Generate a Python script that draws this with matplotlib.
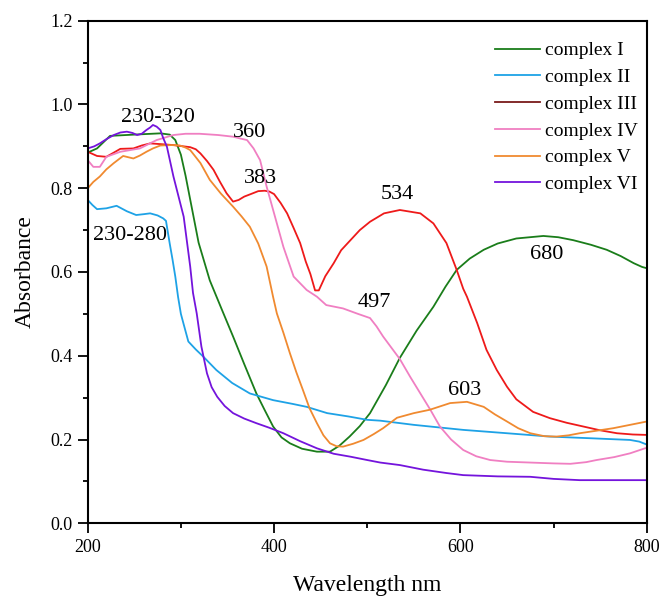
import matplotlib
matplotlib.use("Agg")
import matplotlib.pyplot as plt
from matplotlib.ticker import MultipleLocator

plt.rcParams['font.family'] = ['Liberation Serif', 'DejaVu Serif']

# ---- data ----
wl_1 = [200, 210, 224, 250, 278, 288, 294, 300, 305, 312, 319, 331, 344, 356, 368, 381, 390, 399, 408, 417,
        430, 446, 460, 470, 481, 492, 503, 520, 535, 553, 571, 584, 596, 610, 625, 640, 660, 689, 705, 721,
        740, 757, 772, 786, 795, 800]
abs_1 = [0.885, 0.895, 0.925, 0.928, 0.931, 0.928, 0.915, 0.88, 0.83, 0.75, 0.67, 0.58, 0.51, 0.446, 0.38, 0.31,
         0.27, 0.231, 0.205, 0.191, 0.178, 0.171, 0.171, 0.185, 0.207, 0.232, 0.263, 0.33, 0.395, 0.46, 0.517,
         0.565, 0.605, 0.632, 0.653, 0.668, 0.68, 0.686, 0.683, 0.676, 0.665, 0.653, 0.638, 0.621, 0.612, 0.609]

wl_2 = [200, 205, 210, 220, 231, 242, 252, 260, 267, 275, 281, 284, 288, 291, 294, 297, 300, 303, 308, 316,
        324, 338, 355, 374, 399, 420, 435, 457, 480, 500, 514, 550, 603, 650, 696, 740, 782, 792, 800]
abs_2 = [0.772, 0.76, 0.75, 0.752, 0.758, 0.745, 0.736, 0.738, 0.74, 0.735, 0.728, 0.722, 0.668, 0.63, 0.589,
         0.54, 0.50, 0.475, 0.434, 0.415, 0.398, 0.366, 0.335, 0.31, 0.294, 0.285, 0.278, 0.263, 0.255, 0.247,
         0.245, 0.235, 0.223, 0.215, 0.207, 0.203, 0.199, 0.195, 0.188]

wl_3 = [200, 210, 220, 228, 235, 249, 258, 267, 280, 292, 310, 316, 321, 328, 335, 342, 349, 356, 362, 368,
        375, 383, 390, 395, 400, 407, 414, 421, 428, 434, 439, 444, 448, 455, 464, 472, 482, 492, 503, 518,
        535, 557, 571, 585, 596, 603, 607, 618, 628, 639, 650, 660, 678, 696, 714, 732, 750, 768, 785, 800]
abs_3 = [0.887, 0.877, 0.875, 0.885, 0.894, 0.895, 0.902, 0.907, 0.905, 0.903, 0.898, 0.893, 0.883, 0.865,
         0.844, 0.815, 0.788, 0.768, 0.772, 0.78, 0.786, 0.793, 0.794, 0.792, 0.786, 0.765, 0.740, 0.705, 0.669,
         0.625, 0.595, 0.556, 0.556, 0.59, 0.621, 0.652, 0.676, 0.70, 0.72, 0.74, 0.748, 0.74, 0.716, 0.669,
         0.605, 0.56, 0.541, 0.478, 0.414, 0.366, 0.326, 0.296, 0.266, 0.251, 0.24, 0.231, 0.222, 0.215, 0.212,
         0.211]

wl_4 = [200, 206, 213, 220, 235, 256, 265, 274, 292, 305, 320, 340, 356, 365, 371, 378, 385, 392, 399, 410,
        421, 435, 446, 456, 474, 490, 503, 510, 517, 535, 546, 557, 568, 578, 590, 603, 617, 632, 650, 675,
        700, 718, 735, 746, 765, 782, 798, 800]
abs_4 = [0.867, 0.851, 0.851, 0.875, 0.887, 0.895, 0.905, 0.915, 0.927, 0.93, 0.93, 0.927, 0.923, 0.918, 0.915,
         0.895, 0.867, 0.804, 0.748, 0.66, 0.589, 0.557, 0.541, 0.521, 0.513, 0.50, 0.49, 0.47, 0.446, 0.392,
         0.35, 0.31, 0.27, 0.231, 0.20, 0.175, 0.16, 0.151, 0.147, 0.145, 0.143, 0.142, 0.146, 0.151, 0.158,
         0.167, 0.179, 0.18]

wl_5 = [200, 206, 213, 220, 228, 238, 249, 256, 263, 270, 278, 290, 299, 305, 310, 315, 321, 331, 343, 356,
        365, 374, 383, 392, 399, 403, 410, 417, 424, 431, 438, 446, 453, 460, 467, 474, 485, 496, 507, 517,
        532, 550, 567, 589, 607, 625, 637, 650, 662, 675, 690, 703, 716, 728, 746, 764, 782, 800]
abs_5 = [0.80, 0.815, 0.828, 0.845, 0.86, 0.877, 0.871, 0.878, 0.887, 0.895, 0.902, 0.903, 0.902, 0.897, 0.891,
         0.877, 0.86, 0.82, 0.787, 0.756, 0.733, 0.708, 0.668, 0.613, 0.54, 0.501, 0.455, 0.406, 0.36, 0.318,
         0.275, 0.239, 0.21, 0.191, 0.184, 0.183, 0.19, 0.199, 0.213, 0.227, 0.252, 0.263, 0.271, 0.287, 0.29,
         0.278, 0.26, 0.243, 0.227, 0.215, 0.208, 0.207, 0.21, 0.215, 0.221, 0.227, 0.235, 0.243]

wl_6 = [200, 207, 213, 220, 228, 235, 242, 248, 253, 258, 263, 267, 270, 274, 278, 281, 285, 292, 303, 310,
        313, 317, 322, 328, 333, 339, 347, 356, 368, 381, 395, 410, 428, 446, 464, 482, 500, 514, 535, 560,
        585, 603, 640, 675, 700, 728, 760, 800]
abs_6 = [0.895, 0.90, 0.907, 0.917, 0.927, 0.933, 0.935, 0.932, 0.927, 0.93, 0.939, 0.945, 0.951, 0.947, 0.939,
         0.92, 0.899, 0.828, 0.732, 0.613, 0.55, 0.501, 0.422, 0.358, 0.325, 0.302, 0.28, 0.263, 0.25, 0.239,
         0.228, 0.215, 0.196, 0.179, 0.166, 0.159, 0.151, 0.145, 0.139, 0.128, 0.12, 0.115, 0.112, 0.111,
         0.106, 0.103, 0.103, 0.103]

labels = ["complex I", "complex II", "complex III", "complex IV", "complex V", "complex VI"]
colors = ["#1a7d1a", "#1ea2e6", "#ee1a1a", "#f07fc2", "#f08a30", "#7414dc"]

ann_text = ["230-320", "360", "383", "230-280", "534", "680", "497", "603"]
ann_x = [275, 374, 385, 245, 532, 693, 508, 605]
ann_y = [0.968, 0.932, 0.824, 0.688, 0.784, 0.641, 0.526, 0.318]

xticks = [200, 400, 600, 800]
yticks = [0.0, 0.2, 0.4, 0.6, 0.8, 1.0, 1.2]

# ---- figure ----
fig = plt.figure(figsize=(6.62, 5.96), dpi=100)
ax = fig.add_axes([0.1325, 0.122, 0.8445, 0.8433])

series = [(wl_1, abs_1), (wl_2, abs_2), (wl_3, abs_3), (wl_4, abs_4), (wl_5, abs_5), (wl_6, abs_6)]
lines = []
for (x, y), lab, c in zip(series, labels, colors):
    ln, = ax.plot(x, y, color=c, lw=1.3, label=lab)
    lines.append(ln)

ax.set_xlim(200, 800)
ax.set_ylim(0.0, 1.2)
ax.set_xticks(xticks)
ax.set_yticks(yticks)
ax.set_yticklabels([f"{v:.1f}" for v in yticks])
ax.xaxis.set_minor_locator(MultipleLocator(100))
ax.yaxis.set_minor_locator(MultipleLocator(0.1))
ax.tick_params(which='major', direction='out', length=7, width=1.3, labelsize=13, pad=4,
               top=False, right=False)
ax.tick_params(which='minor', direction='out', length=3.5, width=1.3, top=False, right=False)
for s in ax.spines.values():
    s.set_linewidth(1.5)

ax.set_xlabel("Wavelength nm", fontsize=17, labelpad=14)
ax.set_ylabel("Absorbance", fontsize=17, labelpad=10)

for t, x, y in zip(ann_text, ann_x, ann_y):
    ax.text(x, y, t, fontsize=16, ha='center', va='center')

leg = ax.legend(loc='upper left', bbox_to_anchor=(0.7286, 0.958), frameon=False, fontsize=14,
                handlelength=2.3, handletextpad=0.25, labelspacing=0.47, borderpad=0, borderaxespad=0)
leg.get_lines()[2].set_color("#7a1a1a")

fig.savefig("out.png", dpi=100)
